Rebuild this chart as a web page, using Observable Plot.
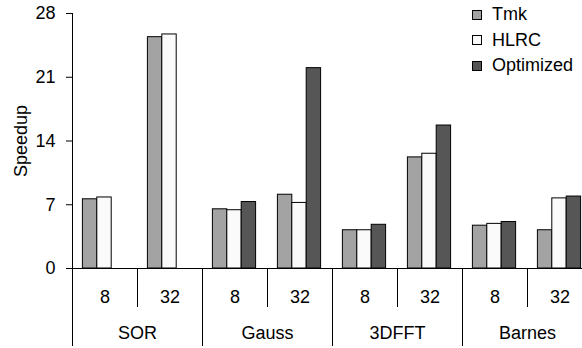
<!DOCTYPE html>
<html>
<head>
<meta charset="utf-8">
<script src="https://cdn.jsdelivr.net/npm/d3@7"></script>
<script src="https://cdn.jsdelivr.net/npm/@observablehq/plot@0.6"></script>
<style>
  html, body { margin: 0; padding: 0; background: #fff; overflow: hidden; }
  #wrap { position: relative; width: 582px; height: 348px; overflow: hidden; font-family: "Liberation Sans", Arial, Helvetica, sans-serif; }
  #legend { position: absolute; left: 472px; top: 2px; font-size: 18px; color: #000; }
  #legend .row { display: flex; align-items: center; height: 25.5px; }
  #legend .sw { width: 8px; height: 8px; border: 1px solid #000; margin-right: 10px; }
</style>
</head>
<body>
<div id="wrap"><div id="legend"></div></div>
<script>
const groups = ["SOR", "Gauss", "3DFFT", "Barnes"];
const procs = ["8", "32"];
const series = ["Tmk", "HLRC", "Optimized"];
const colors = ["#a3a3a3", "#fafafa", "#565656"];
// values per (group, procs) in order SOR8, SOR32, Gauss8, Gauss32, 3DFFT8, 3DFFT32, Barnes8, Barnes32
const tmk  = [7.6, 25.4, 6.5, 8.1, 4.2, 12.2, 4.7, 4.2];
const hlrc = [7.8, 25.7, 6.4, 7.2, 4.2, 12.6, 4.9, 7.7];
const opt  = [null, null, 7.3, 22.0, 4.8, 15.7, 5.1, 7.9];
const yTicks = [0, 7, 14, 21, 28];

const combos = groups.flatMap(g => procs.map(p => g + " " + p));
const seriesValues = [tmk, hlrc, opt];
const data = [];
combos.forEach((c, i) => series.forEach((s, j) => {
  const v = seriesValues[j][i];
  if (v != null) data.push({combo: c, series: s, value: v});
}));

const W = 592, ML = 72, MR = 0;
const bw = (W - ML - MR) / combos.length;
const barW = 14.4, lead = 10.4;

const font = '"Liberation Sans", Arial, Helvetica, sans-serif';

const barMarks = series.map((s, j) => Plot.barY(data.filter(d => d.series === s), {
  x: "combo", y: "value", fill: colors[j], stroke: "#000", strokeWidth: 1,
  insetLeft: lead + j * barW, insetRight: bw - lead - (j + 1) * barW
}));

const odd = combos.filter((c, i) => i % 2 === 1);
const even = combos.filter((c, i) => i % 2 === 0);

const chart = Plot.plot({
  width: W, height: 348,
  marginLeft: ML, marginRight: MR, marginTop: 13, marginBottom: 80,
  style: {fontFamily: font, fontSize: "18px", maxWidth: "none", color: "#000", overflow: "hidden"},
  x: {type: "band", domain: combos, padding: 0, axis: null},
  y: {domain: [0, 28], axis: null},
  marks: [
    ...barMarks,
    Plot.ruleY([0], {stroke: "#000"}),
    Plot.ruleX([combos[0]], {dx: -bw / 2, stroke: "#000"}),
    Plot.axisY({ticks: yTicks, tickSize: 6, tickPadding: 11, fontSize: 18, label: null, stroke: "#000"}),
    Plot.axisX({ticks: odd, tickSize: 39, dx: -bw / 2, tickFormat: () => "", label: null, stroke: "#000"}),
    Plot.axisX({ticks: even, tickSize: 78, dx: -bw / 2, tickFormat: () => "", label: null, stroke: "#000"}),
    Plot.axisX({ticks: combos, tickSize: 0, tickPadding: 22, fontSize: 18, label: null, tickFormat: c => c.split(" ")[1]}),
    Plot.axisX({ticks: odd, tickSize: 0, tickPadding: 58, dx: -bw / 2, fontSize: 18, label: null, tickFormat: c => c.split(" ")[0]}),
    Plot.text(["Speedup"], {frameAnchor: "left", dx: -51, rotate: -90, fontSize: 18, textAnchor: "middle", lineAnchor: "middle"})
  ]
});
document.getElementById("wrap").prepend(chart);

const legend = document.getElementById("legend");
series.forEach((s, j) => {
  const row = document.createElement("div");
  row.className = "row";
  const sw = document.createElement("div");
  sw.className = "sw";
  sw.style.background = colors[j];
  const t = document.createElement("span");
  t.textContent = s;
  row.append(sw, t);
  legend.append(row);
});
</script>
</body>
</html>
